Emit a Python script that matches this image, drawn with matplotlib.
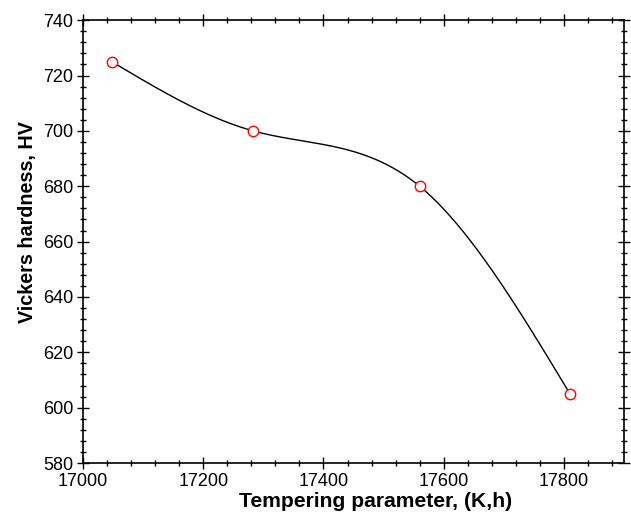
import numpy as np
import matplotlib
matplotlib.use("Agg")
import matplotlib.pyplot as plt
from matplotlib.ticker import MultipleLocator

plt.rcParams['font.family'] = ['Liberation Sans', 'DejaVu Sans']

# data
tempering_param = [17048, 17283, 17560, 17810]
hardness = [725, 700, 680, 605]


def natural_spline(x, y, n=300):
    # plain natural cubic spline, no scipy needed
    x = np.asarray(x, float)
    y = np.asarray(y, float)
    k = len(x)
    h = np.diff(x)
    A = np.zeros((k, k))
    b = np.zeros(k)
    A[0, 0] = 1
    A[-1, -1] = 1
    for i in range(1, k - 1):
        A[i, i - 1] = h[i - 1]
        A[i, i] = 2 * (h[i - 1] + h[i])
        A[i, i + 1] = h[i]
        b[i] = 6 * ((y[i + 1] - y[i]) / h[i] - (y[i] - y[i - 1]) / h[i - 1])
    M = np.linalg.solve(A, b)
    xs = np.linspace(x[0], x[-1], n)
    idx = np.clip(np.searchsorted(x, xs) - 1, 0, k - 2)
    x0, x1 = x[idx], x[idx + 1]
    hi = x1 - x0
    t0 = x1 - xs
    t1 = xs - x0
    ys = (M[idx] * t0**3 + M[idx + 1] * t1**3) / (6 * hi) \
        + (y[idx] / hi - M[idx] * hi / 6) * t0 \
        + (y[idx + 1] / hi - M[idx + 1] * hi / 6) * t1
    return xs, ys


fig = plt.figure(figsize=(6.31, 5.17), dpi=100)
ax = fig.add_axes([0.1315, 0.1044, 0.8575, 0.8566])

xs, ys = natural_spline(tempering_param, hardness)
ax.plot(xs, ys, color='black', lw=1.0, zorder=2)
ax.plot(tempering_param, hardness, linestyle='none', marker='o', ms=7.5,
        mfc='white', mec='red', mew=1.0, zorder=3)

ax.set_xlim(17000, 17900)
ax.set_ylim(580, 740)
ax.xaxis.set_major_locator(MultipleLocator(200))
ax.xaxis.set_minor_locator(MultipleLocator(40))
ax.yaxis.set_major_locator(MultipleLocator(20))
ax.yaxis.set_minor_locator(MultipleLocator(4))

ax.tick_params(which='both', direction='inout', top=True, right=True,
               labelsize=13, width=1.0)
ax.tick_params(which='major', length=8)
ax.tick_params(which='minor', length=4.5)
ax.tick_params(axis='x', which='major', pad=3.5)
ax.tick_params(axis='y', which='major', pad=3)
for s in ax.spines.values():
    s.set_linewidth(1.2)

ax.set_xlabel('Tempering parameter, (K,h)', fontsize=15.2, fontweight='bold')
ax.set_ylabel('Vickers hardness, HV', fontsize=14.2, fontweight='bold')
ax.xaxis.set_label_coords(0.540, -0.0655)
ax.yaxis.set_label_coords(-0.085, 0.544)

fig.savefig('out.png', dpi=100)
